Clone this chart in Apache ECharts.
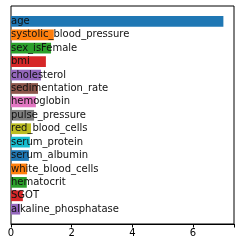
<!DOCTYPE html>
<html><head><meta charset="utf-8">
<script src="https://cdn.jsdelivr.net/npm/echarts@6/dist/echarts.min.js"></script>
<style>html,body{margin:0;padding:0;background:#fff}#c{width:241px;height:248px}</style>
</head><body><div id="c"></div>
<script>
const categories = ["age","systolic_blood_pressure","sex_isFemale","bmi","cholesterol","sedimentation_rate","hemoglobin","pulse_pressure","red_blood_cells","serum_protein","serum_albumin","white_blood_cells","hematocrit","SGOT","alkaline_phosphatase"].slice(0,15);
const values = [7.0,1.41,1.32,1.15,0.99,0.89,0.82,0.76,0.66,0.62,0.59,0.53,0.52,0.39,0.30];
const colors = ["#1f77b4","#ff7f0e","#2ca02c","#d62728","#9467bd","#8c564b","#e377c2","#7f7f7f","#bcbd22","#17becf"];
const xTicks = [0,2,4,6];
const xMax = 7.35;

const chart = echarts.init(document.getElementById('c'), null, {renderer:'canvas'});
const font = 'DejaVu Sans';
chart.setOption({
  animation:false,
  grid:[
    {left:11, top:6, width:223, height:218, show:true, borderColor:'#000', borderWidth:1, backgroundColor:'transparent'},
    {left:11, top:14.7, width:223, height:201.2}
  ],
  xAxis:[
    {gridIndex:0, type:'value', min:0, max:xMax, interval:2,
     axisLine:{show:true, lineStyle:{color:'#000'}}, splitLine:{show:false},
     axisTick:{show:true, length:3.5, inside:false, lineStyle:{color:'#000'}},
     axisLabel:{color:'#000', fontFamily:font, fontSize:10, margin:4,
       formatter:v=> xTicks.includes(v)? String(v):''}},
    {gridIndex:1, type:'value', min:0, max:xMax, show:false}
  ],
  yAxis:[
    {gridIndex:0, type:'value', show:false},
    {gridIndex:1, type:'category', data:categories, inverse:true, show:false, boundaryGap:true}
  ],
  series:[{
    type:'bar', xAxisIndex:1, yAxisIndex:1, barCategoryGap:'20%',
    data: values.map((v,i)=>({value:v, itemStyle:{color:colors[i%colors.length]}})),
    label:{show:true, position:'insideLeft', distance:0, padding:0,
      formatter:p=>categories[p.dataIndex], color:'#111', fontFamily:font, fontSize:10}
  }]
});
</script></body></html>
